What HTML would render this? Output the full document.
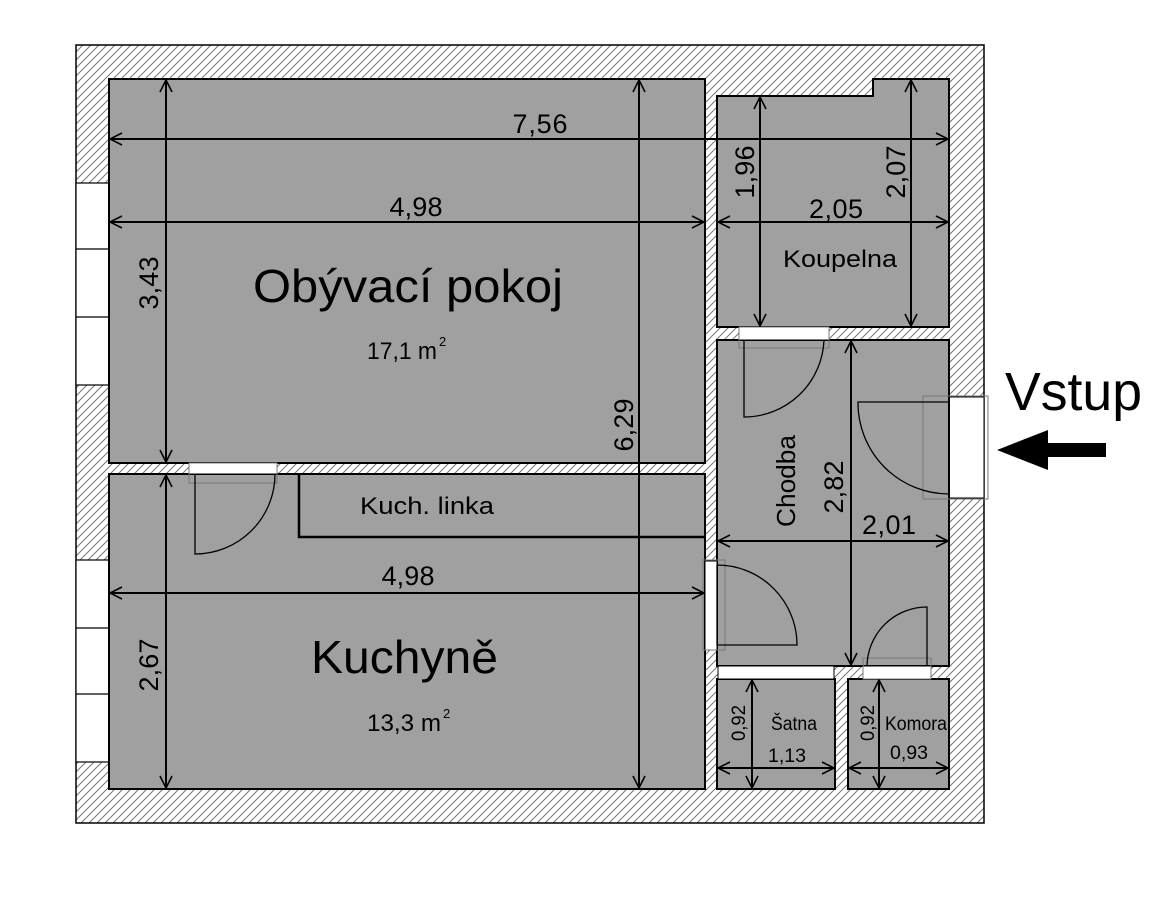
<!DOCTYPE html>
<html><head><meta charset="utf-8">
<style>
html,body{margin:0;padding:0;background:#fff;}
svg{display:block;}
text{font-family:"Liberation Sans","DejaVu Sans",sans-serif;fill:#000;}
</style></head>
<body>
<svg width="1173" height="917" viewBox="0 0 1173 917" xmlns="http://www.w3.org/2000/svg">
<defs>
<pattern id="h" patternUnits="userSpaceOnUse" width="8" height="8">
<rect width="8" height="8" fill="#fff"/>
<path d="M-2,10 L10,-2 M-2,2 L2,-2 M6,10 L10,6" stroke="#777" stroke-width="1"/>
</pattern>
<marker id="a" viewBox="0 0 14 14" refX="13" refY="7" markerWidth="14" markerHeight="14" markerUnits="userSpaceOnUse" orient="auto-start-reverse">
<path d="M1,1 L13,7 L1,13" fill="none" stroke="#000" stroke-width="1.6"/>
</marker>
</defs>
<rect x="76" y="45" width="908" height="778" fill="url(#h)" stroke="#000" stroke-width="1.5"/>
<rect x="76" y="183" width="33" height="202" fill="#fff" stroke="#000" stroke-width="1.2"/>
<line x1="76" y1="249" x2="109" y2="249" stroke="#000" stroke-width="1.2"/>
<line x1="76" y1="317" x2="109" y2="317" stroke="#000" stroke-width="1.2"/>
<rect x="76" y="560" width="33" height="202" fill="#fff" stroke="#000" stroke-width="1.2"/>
<line x1="76" y1="628" x2="109" y2="628" stroke="#000" stroke-width="1.2"/>
<line x1="76" y1="694" x2="109" y2="694" stroke="#000" stroke-width="1.2"/>
<rect x="949" y="397" width="35" height="101" fill="#fff" stroke="#000" stroke-width="1"/>
<g fill="#a0a0a0" stroke="#000" stroke-width="2">
<rect x="109" y="79" width="596" height="384"/>
<rect x="109" y="474" width="596" height="315"/>
<path d="M717,96 L873,96 L873,79 L949,79 L949,327 L717,327 Z"/>
<rect x="717" y="340" width="232" height="326"/>
<rect x="717" y="679" width="118" height="110"/>
<rect x="848" y="679" width="101" height="110"/>
</g>
<g fill="#fff" stroke="#000" stroke-width="1">
<rect x="189" y="463" width="88" height="11"/>
<rect x="739" y="327" width="90" height="13"/>
<rect x="705" y="561" width="12" height="89"/>
<rect x="718" y="666" width="116" height="13"/>
<rect x="863" y="666" width="68" height="13"/>
</g>
<g fill="none" stroke="#777" stroke-width="1">
<rect x="189" y="463" width="88" height="20"/>
<rect x="739" y="327" width="90" height="21"/>
<rect x="703" y="560" width="22" height="90"/>
<rect x="863" y="658" width="68" height="21"/>
<rect x="923" y="396" width="65" height="103"/>
</g>
<g fill="none" stroke="#000" stroke-width="1.3">
<path d="M195,474 L195,554 A80,80 0 0 0 275,474"/>
<path d="M744,340 L744,417 A80,80 0 0 0 824,340"/>
<path d="M949,402 L858,402 A91,91 0 0 0 949,494"/>
<path d="M717,565 L717,645 L797,645 A80,80 0 0 0 717,565"/>
<path d="M927,666 L927,607 A60,60 0 0 0 867,666"/>
</g>
<path d="M299,474 L299,537 L705,537" fill="none" stroke="#000" stroke-width="2.5"/>
<g stroke="#000" stroke-width="2" marker-start="url(#a)" marker-end="url(#a)">
<line x1="110" y1="139" x2="948" y2="139"/>
<line x1="110" y1="222" x2="704" y2="222"/>
<line x1="166" y1="80" x2="166" y2="462"/>
<line x1="639" y1="80" x2="639" y2="788"/>
<line x1="110" y1="593" x2="704" y2="593"/>
<line x1="166" y1="475" x2="166" y2="788"/>
<line x1="760" y1="97" x2="760" y2="326"/>
<line x1="911" y1="80" x2="911" y2="326"/>
<line x1="718" y1="222" x2="948" y2="222"/>
<line x1="851" y1="341" x2="851" y2="665"/>
<line x1="718" y1="541" x2="948" y2="541"/>
<line x1="752" y1="680" x2="752" y2="788"/>
<line x1="718" y1="768" x2="834" y2="768"/>
<line x1="879" y1="680" x2="879" y2="788"/>
<line x1="849" y1="768" x2="948" y2="768"/>
</g>
<g font-size="27" lengthAdjust="spacingAndGlyphs">
<text x="540" y="133" text-anchor="middle" textLength="55">7,56</text>
<text x="416" y="216" text-anchor="middle" textLength="53">4,98</text>
<text x="408" y="585" text-anchor="middle" textLength="53">4,98</text>
<text x="836" y="218" text-anchor="middle" textLength="54">2,05</text>
<text x="889" y="534" text-anchor="middle" textLength="54">2,01</text>
<text transform="translate(158,283) rotate(-90)" text-anchor="middle" textLength="53">3,43</text>
<text transform="translate(633,425) rotate(-90)" text-anchor="middle" textLength="53">6,29</text>
<text transform="translate(158,665) rotate(-90)" text-anchor="middle" textLength="53">2,67</text>
<text transform="translate(754,172) rotate(-90)" text-anchor="middle" textLength="53">1,96</text>
<text transform="translate(905,172) rotate(-90)" text-anchor="middle" textLength="53">2,07</text>
<text transform="translate(843,487) rotate(-90)" text-anchor="middle" textLength="53">2,82</text>
</g>
<g font-size="19">
<text transform="translate(745,723) rotate(-90)" text-anchor="middle" textLength="36" lengthAdjust="spacingAndGlyphs">0,92</text>
<text transform="translate(874,723) rotate(-90)" text-anchor="middle" textLength="36" lengthAdjust="spacingAndGlyphs">0,92</text>
<text x="787" y="762" text-anchor="middle" textLength="38" lengthAdjust="spacingAndGlyphs">1,13</text>
<text x="909" y="759" text-anchor="middle" textLength="38" lengthAdjust="spacingAndGlyphs">0,93</text>
<text x="794" y="730" text-anchor="middle" textLength="46" lengthAdjust="spacingAndGlyphs">Šatna</text>
<text x="916" y="730" text-anchor="middle" textLength="62" lengthAdjust="spacingAndGlyphs">Komora</text>
</g>
<text x="840" y="267" font-size="24" text-anchor="middle" textLength="114" lengthAdjust="spacingAndGlyphs">Koupelna</text>
<text transform="translate(795,481) rotate(-90)" font-size="26" text-anchor="middle" textLength="92" lengthAdjust="spacingAndGlyphs">Chodba</text>
<text x="427" y="514" font-size="24" text-anchor="middle" textLength="134" lengthAdjust="spacingAndGlyphs">Kuch. linka</text>
<text x="253" y="302" font-size="46" textLength="310" lengthAdjust="spacingAndGlyphs">Obývací pokoj</text>
<text x="367" y="359" font-size="24" textLength="70" lengthAdjust="spacingAndGlyphs">17,1 m</text>
<text x="439" y="346" font-size="13">2</text>
<text x="311" y="673" font-size="46" textLength="187" lengthAdjust="spacingAndGlyphs">Kuchyně</text>
<text x="367" y="731" font-size="24" textLength="74" lengthAdjust="spacingAndGlyphs">13,3 m</text>
<text x="443" y="718" font-size="13">2</text>
<text x="1005" y="410" font-size="54" textLength="137" lengthAdjust="spacingAndGlyphs">Vstup</text>
<path d="M997,450 L1048,430 L1048,443 L1106,443 L1106,457 L1048,457 L1048,470 Z" fill="#000"/>
</svg>
</body></html>
